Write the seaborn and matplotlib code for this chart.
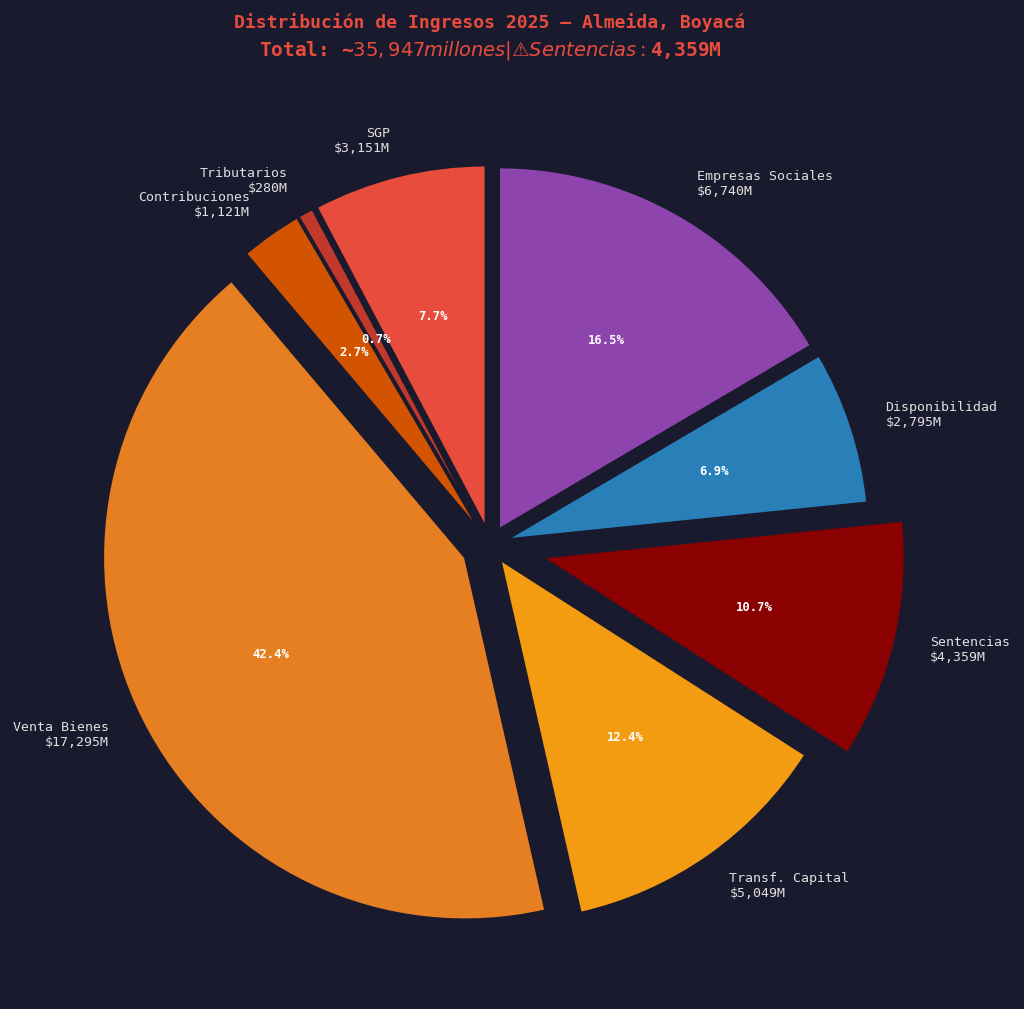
import matplotlib
matplotlib.use("Agg")
import matplotlib.pyplot as plt
import seaborn as sns

# Datos de ingresos 2025 (millones de pesos)
categorias = ["SGP", "Tributarios", "Contribuciones", "Venta Bienes",
              "Transf. Capital", "Sentencias", "Disponibilidad", "Empresas Sociales"]
valores = [3151, 280, 1121, 17295, 5049, 4359, 2795, 6740]
colores = ["#e74c3c", "#c0392b", "#d35400", "#e67e22",
           "#f39c12", "#8b0000", "#2980b9", "#8e44ad"]
explode = [0.05, 0.05, 0.05, 0.077, 0.05, 0.15, 0.05, 0.05]

titulo_1 = "Distribución de Ingresos 2025 — Almeida, Boyacá"
titulo_2 = "Total: ~$35,947 millones | ⚠ Sentencias: $4,359M"

fondo = "#1a1a2e"
sns.set_theme(style="dark", rc={"figure.facecolor": fondo, "axes.facecolor": fondo})
plt.rcParams["font.family"] = ["DejaVu Sans Mono", "DejaVu Sans"]

fig = plt.figure(figsize=(10.24, 10.09), dpi=100)
fig.patch.set_facecolor(fondo)
ax = fig.add_axes([0.0366, 0.0114, 0.8838, 0.8969])
ax.set_facecolor(fondo)

etiquetas = [f"{c}\n${v:,}M" for c, v in zip(categorias, valores)]

wedges, textos, autotextos = ax.pie(
    valores,
    labels=etiquetas,
    colors=colores,
    explode=explode,
    startangle=90,
    autopct="%1.1f%%",
    pctdistance=0.6,
    labeldistance=1.1,
    wedgeprops={"edgecolor": fondo, "linewidth": 1.5},
    textprops={"color": "#e0e0e0", "fontsize": 9.5},
)
for t in autotextos:
    t.set_color("white")
    t.set_fontsize(8.8)
    t.set_fontweight("bold")

# Título en dos líneas
fig.text(0.4785, 1 - 28 / 1009, titulo_1, ha="center", va="baseline",
         color="#e74c3c", fontsize=13, fontweight="bold")
fig.text(0.4785, 1 - 55 / 1009, titulo_2, ha="center", va="baseline",
         color="#e74c3c", fontsize=14, fontweight="bold")

fig.savefig("out.png", dpi=100, facecolor=fondo)
